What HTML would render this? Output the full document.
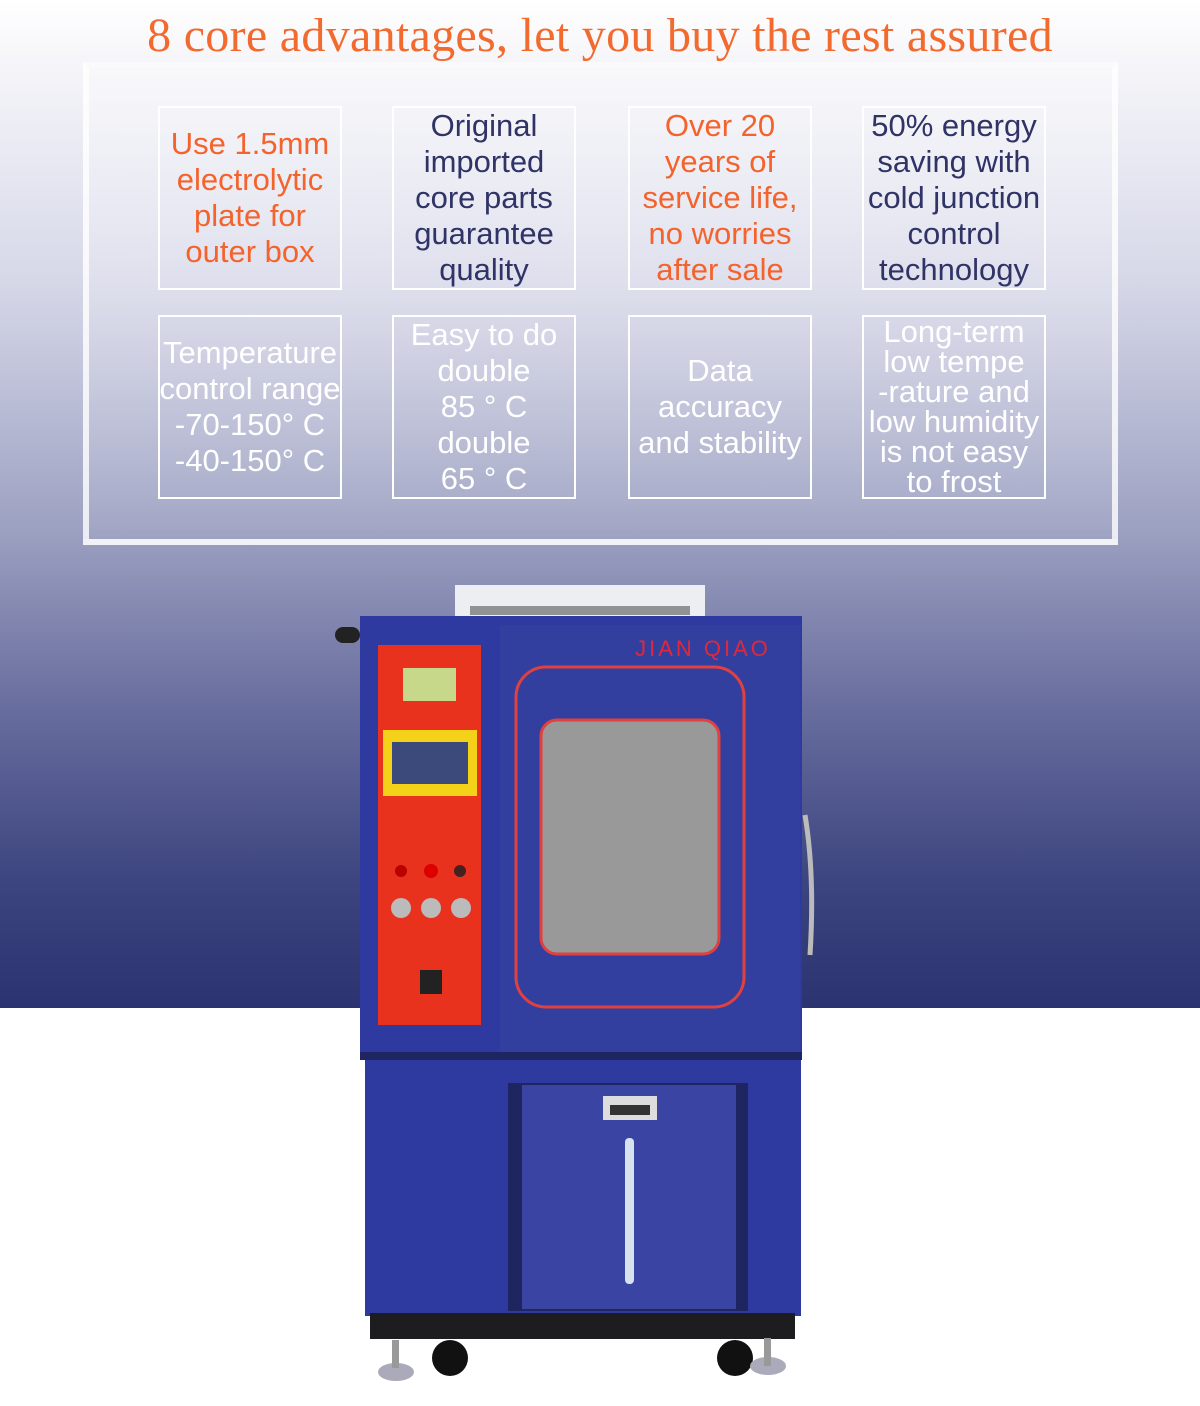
<!DOCTYPE html>
<html><head><meta charset="utf-8"><style>
*{margin:0;padding:0;box-sizing:border-box}
body{width:1200px;height:1406px;position:relative;overflow:hidden;background:#fff;font-family:"Liberation Sans Narrow","Liberation Sans",sans-serif}
.bg{position:absolute;left:0;top:0;width:1200px;height:1008px;background:linear-gradient(#ffffff 0px,#f3f3f8 80px,#d6d8e8 280px,#9fa3c3 520px,#6a6f9f 700px,#3d4580 880px,#2b3370 1008px)}
.panel{position:absolute;left:83px;top:62px;width:1035px;height:483px;border:6px solid rgba(255,255,255,.8);border-top-color:rgba(255,255,255,.45);background:linear-gradient(rgba(255,255,255,.35),rgba(255,255,255,.05))}
h1{position:absolute;left:0;top:8px;width:1200px;text-align:center;font-family:"Liberation Serif",serif;font-weight:normal;font-size:48px;color:#f26a2e;letter-spacing:.3px}
.b{position:absolute;width:184px;height:184px;border:2px solid #fff;display:flex;align-items:center;justify-content:center;text-align:center;font-size:31px;line-height:36px;white-space:nowrap}
.o{color:#f4632c}.n{color:#2f3366}.w{color:#fff}
</style></head><body>
<div class="bg"></div>
<div class="panel"></div>
<h1>8 core advantages, let you buy the rest assured</h1>
<div class="b o" style="left:158px;top:106px">Use 1.5mm<br>electrolytic<br>plate for<br>outer box</div>
<div class="b n" style="left:392px;top:106px">Original<br>imported<br>core parts<br>guarantee<br>quality</div>
<div class="b o" style="left:628px;top:106px">Over 20<br>years of<br>service life,<br>no worries<br>after sale</div>
<div class="b n" style="left:862px;top:106px">50% energy<br>saving with<br>cold junction<br>control<br>technology</div>
<div class="b w" style="left:158px;top:315px">Temperature<br>control range<br>-70-150° C<br>-40-150° C</div>
<div class="b w" style="left:392px;top:315px">Easy to do<br>double<br>85 ° C<br>double<br>65 ° C</div>
<div class="b w" style="left:628px;top:315px">Data<br>accuracy<br>and stability</div>
<div class="b w" style="left:862px;top:315px;line-height:30px">Long-term<br>low tempe<br>-rature and<br>low humidity<br>is not easy<br>to frost</div>

<svg style="position:absolute;left:0;top:0" width="1200" height="1406">
<rect x="455" y="585" width="250" height="35" fill="#eceef2"/>
<rect x="470" y="606" width="220" height="9" fill="#555" opacity=".6"/>
<rect x="360" y="616" width="442" height="444" fill="#2f3aa0"/>
<rect x="500" y="625" width="300" height="430" fill="#333f9e"/>
<rect x="378" y="645" width="103" height="380" fill="#e8321e"/>
<rect x="403" y="668" width="53" height="33" fill="#c7d88a"/>
<rect x="383" y="730" width="94" height="66" fill="#f3d219"/>
<rect x="392" y="742" width="76" height="42" fill="#3b4a7a"/>
<circle cx="401" cy="871" r="6" fill="#b00"/><circle cx="431" cy="871" r="7" fill="#d00"/><circle cx="460" cy="871" r="6" fill="#422"/>
<circle cx="401" cy="908" r="10" fill="#bbb"/><circle cx="431" cy="908" r="10" fill="#bbb"/><circle cx="461" cy="908" r="10" fill="#bbb"/>
<rect x="420" y="970" width="22" height="24" fill="#222"/>
<text x="703" y="656" font-family="Liberation Sans,sans-serif" font-size="22" fill="#e0283a" text-anchor="middle" letter-spacing="3">JIAN QIAO</text>
<rect x="516" y="667" width="228" height="340" rx="30" fill="none" stroke="#e04040" stroke-width="3"/>
<rect x="541" y="720" width="178" height="234" rx="16" fill="#999" stroke="#e04040" stroke-width="3"/>
<path d="M805 815 q10 60 5 140" stroke="#bbb" stroke-width="5" fill="none"/>
<rect x="335" y="627" width="25" height="16" rx="8" fill="#222"/>
<rect x="360" y="1052" width="442" height="8" fill="#1e2560"/>
<rect x="365" y="1060" width="436" height="256" fill="#2f3aa0"/>
<rect x="508" y="1083" width="240" height="228" fill="#1e2560"/>
<rect x="522" y="1085" width="214" height="224" fill="#3a44a2"/>
<rect x="603" y="1096" width="54" height="24" fill="#ddd"/><rect x="610" y="1105" width="40" height="10" fill="#333"/>
<rect x="625" y="1138" width="9" height="146" rx="4" fill="#d6e2ee"/>
<rect x="370" y="1313" width="425" height="26" fill="#1d1d1f"/>
<circle cx="450" cy="1358" r="18" fill="#111"/><circle cx="735" cy="1358" r="18" fill="#111"/>
<ellipse cx="396" cy="1372" rx="18" ry="9" fill="#aab"/><ellipse cx="768" cy="1366" rx="18" ry="9" fill="#aab"/>
<rect x="392" y="1340" width="7" height="28" fill="#999"/><rect x="764" y="1338" width="7" height="28" fill="#999"/>
</svg>
</body></html>
